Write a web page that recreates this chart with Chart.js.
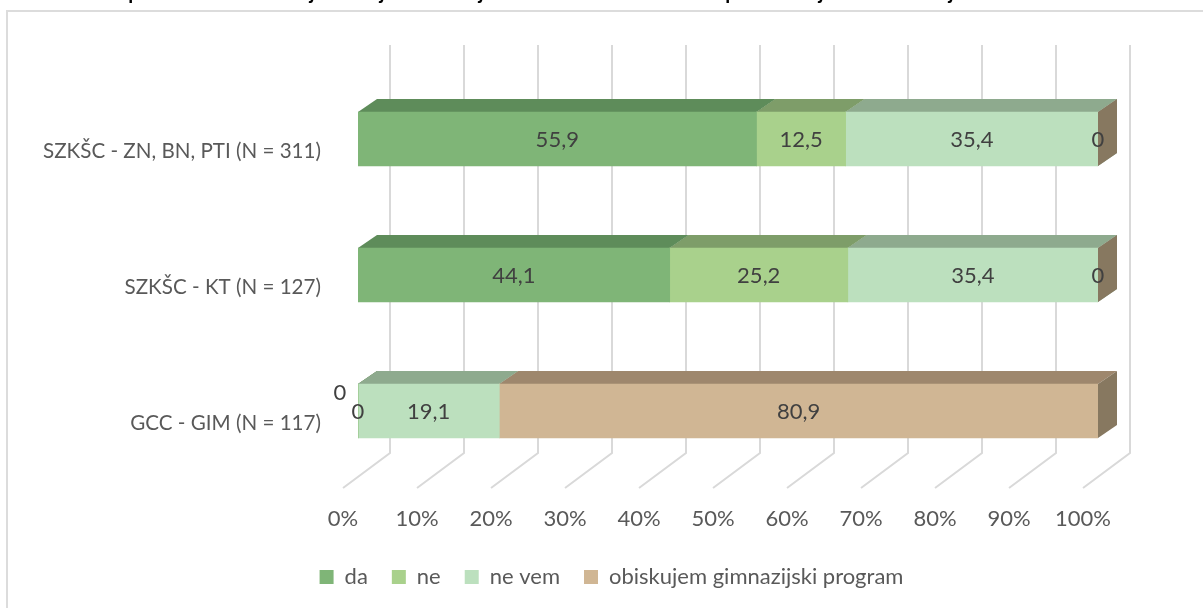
<!DOCTYPE html>
<html>
<head>
  <meta charset="UTF-8" />
  <title>Stacked bars</title>
  <style>
    html, body { margin: 0; padding: 0; background: #fff; overflow: hidden; }
    #frame { position: absolute; left: 6px; top: 10px; width: 1300px; height: 700px; border: 2px solid #dcdcdc; box-sizing: border-box; }
    #wrap { position: absolute; left: 0; top: 0; width: 1203px; height: 608px; }
  </style>
</head>
<body>
  <div id="frame"></div>
  <div id="wrap"><canvas id="chart" width="1203" height="608"></canvas></div>
  <script src="https://cdn.jsdelivr.net/npm/chart.js"></script>
  <script>
    const categories = ['SZKŠC - ZN, BN, PTI (N = 311)', 'SZKŠC - KT (N = 127)', 'GCC - GIM (N = 117)'];
    const seriesNames = ['da', 'ne', 'ne vem', 'obiskujem gimnazijski program'];
    const daValues = [55.9, 44.1, 0];
    const neValues = [12.5, 25.2, 0];
    const neVemValues = [35.4, 35.4, 19.1];
    const gimValues = [0, 0, 80.9];
    const xTicks = [0, 10, 20, 30, 40, 50, 60, 70, 80, 90, 100];

    const allValues = [daValues, neValues, neVemValues, gimValues];
    const frontColors = ['#7fb577', '#a9d18c', '#bce0be', '#d0b694'];
    const topColors = ['#5e8c5a', '#7e9d69', '#8eaa8e', '#9e876d'];
    const sideColors = ['#5e8c5a', '#7e9d69', '#8eaa8e', '#877860'];

    // 100% stacked, the picture shows raw numbers but draws shares
    const totals = categories.map((c, i) => allValues.reduce((s, v) => s + v[i], 0));
    const shares = allValues.map(v => v.map((n, i) => n / totals[i] * 100));

    const FONT = 'Lato, "Open Sans", sans-serif';
    // bars sit in the middle of the floor depth
    const barShift = { x: 15, y: -12 };
    const barDepth = { x: 19, y: -13 };
    const wallDepth = { x: 47, y: -38 };
    const floorFront = -3;

    // only the descenders of the cropped title line reach into the picture
    const croppedTitle = [['p', 134], ['j', 312], ['j', 382], ['j', 481], ['p', 731], ['j', 821], ['j', 951]];

    const fake3d = {
      id: 'fake3d',
      afterLayout(chart) {
        // legend is centred on the whole frame, not on the plot
        chart.legend.left += 70;
        chart.legend.right += 70;
      },
      beforeDatasetsDraw(chart) {
        const ctx = chart.ctx;
        const area = chart.chartArea;
        const x = chart.scales.x;
        ctx.save();
        ctx.strokeStyle = '#d9d9d9';
        ctx.lineWidth = 2;
        xTicks.forEach(t => {
          const px = x.getPixelForValue(t);
          ctx.beginPath();
          ctx.moveTo(px + wallDepth.x, area.top + wallDepth.y);
          ctx.lineTo(px + wallDepth.x, area.bottom + wallDepth.y);
          ctx.lineTo(px, area.bottom + floorFront);
          ctx.stroke();
        });
        ctx.restore();

        ctx.save();
        ctx.translate(barShift.x, barShift.y);
        chart.data.datasets.forEach((ds, d) => {
          chart.getDatasetMeta(d).data.forEach(bar => {
            const top = bar.y - bar.height / 2;
            const bottom = bar.y + bar.height / 2;
            ctx.fillStyle = topColors[d];
            ctx.beginPath();
            ctx.moveTo(bar.base, top);
            ctx.lineTo(bar.base + barDepth.x, top + barDepth.y);
            ctx.lineTo(bar.x + barDepth.x, top + barDepth.y);
            ctx.lineTo(bar.x, top);
            ctx.closePath();
            ctx.fill();
            ctx.fillStyle = sideColors[d];
            ctx.beginPath();
            ctx.moveTo(bar.x, top);
            ctx.lineTo(bar.x + barDepth.x, top + barDepth.y);
            ctx.lineTo(bar.x + barDepth.x, bottom + barDepth.y);
            ctx.lineTo(bar.x, bottom);
            ctx.closePath();
            ctx.fill();
          });
        });
        // native bars get the same shift, restored after the labels
      },
      afterDatasetsDraw(chart) {
        const ctx = chart.ctx;
        ctx.font = '22px ' + FONT;
        ctx.fillStyle = '#404040';
        ctx.textAlign = 'center';
        ctx.textBaseline = 'middle';
        chart.data.datasets.forEach((ds, d) => {
          chart.getDatasetMeta(d).data.forEach((bar, i) => {
            // the two stacked zeros on the last row were pulled apart by hand
            const nudge = (d === 1 && allValues[d][i] === 0) ? { x: -18, y: -18 } : { x: 0, y: 1 };
            ctx.fillText(String(allValues[d][i]).replace('.', ','), (bar.x + bar.base) / 2 + nudge.x, bar.y + nudge.y);
          });
        });
        ctx.restore();
      },
      afterDraw(chart) {
        const ctx = chart.ctx;
        ctx.save();
        ctx.font = 'bold 20px ' + FONT;
        ctx.fillStyle = '#000';
        ctx.textAlign = 'center';
        ctx.textBaseline = 'alphabetic';
        croppedTitle.forEach(g => ctx.fillText(g[0], g[1], -1));
        ctx.restore();
      }
    };

    new Chart(document.getElementById('chart'), {
      type: 'bar',
      data: {
        labels: categories,
        datasets: seriesNames.map((name, d) => ({
          label: name,
          data: shares[d],
          backgroundColor: frontColors[d],
          borderWidth: 0,
          barThickness: 54
        }))
      },
      options: {
        indexAxis: 'y',
        responsive: false,
        animation: false,
        layout: { padding: { top: 83, right: 120, left: 0, bottom: 10 } },
        scales: {
          x: {
            stacked: true,
            min: 0,
            max: 100,
            grid: { display: false },
            border: { display: false },
            afterBuildTicks(scale) { scale.ticks = xTicks.map(v => ({ value: v })); },
            afterFit(scale) { scale.height = 51; },
            ticks: {
              color: '#595959',
              font: { family: FONT, size: 22 },
              padding: 7,
              maxRotation: 0,
              callback: v => v + '%'
            }
          },
          y: {
            stacked: true,
            grid: { display: false },
            border: { display: false },
            afterFit(scale) { scale.width = 343; },
            ticks: {
              color: '#595959',
              font: { family: FONT, size: 20.6 },
              padding: 14
            }
          }
        },
        plugins: {
          tooltip: { enabled: false },
          legend: {
            position: 'bottom',
            labels: {
              color: '#595959',
              font: { family: FONT, size: 22 },
              boxWidth: 14,
              boxHeight: 14,
              padding: 24
            }
          }
        }
      },
      plugins: [fake3d]
    });
  </script>
</body>
</html>
